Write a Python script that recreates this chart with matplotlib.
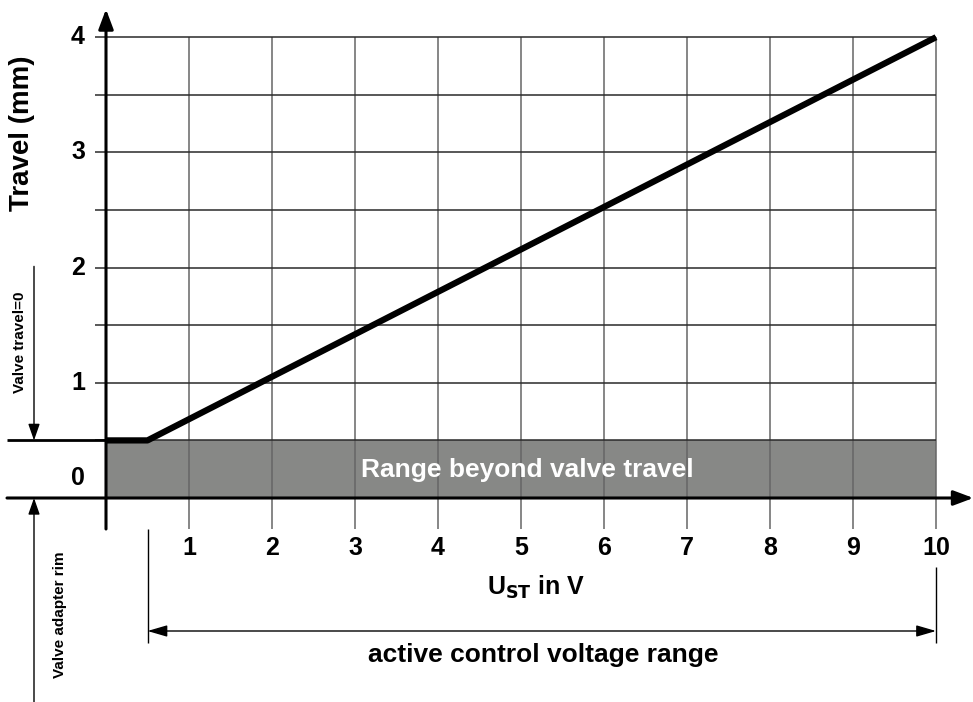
import numpy as np
import matplotlib
matplotlib.use('Agg')
import matplotlib.pyplot as plt

plt.rcParams['font.family'] = ['Liberation Sans', 'DejaVu Sans']
plt.rcParams['font.weight'] = 'bold'

# 特性曲线数据
voltage = [0, 0.5, 10]
travel = [0.5, 0.5, 4]
x_ticks = [1, 2, 3, 4, 5, 6, 7, 8, 9, 10]
y_grid = [0.5, 1, 1.5, 2, 2.5, 3, 3.5, 4]
y_labels = ['0', '1', '2', '3', '4']
y_label_pos = [0.17, 1, 2, 3, 4]
band = [0, 0.5]          # 灰色区域
active_range = [0.5, 10]

fig = plt.figure(figsize=(9.73, 7.02), dpi=100)
ax = fig.add_axes([0, 0, 1, 1])
# 数据坐标与像素对应: x=0 -> 106px, 83px/单位; y=0 -> 498px, 115px/单位
px_x = 83.0
px_y = 115.2
ax.set_xlim(-106 / px_x, (973 - 106) / px_x)
ax.set_ylim(-(702 - 498) / px_y, 498 / px_y)
ax.axis('off')

def dx(p):
    return p / px_x

def dy(p):
    return p / px_y

# 灰色区域
ax.fill_between([0, 10], band[0], band[1], color='#878886', lw=0, zorder=1)
ax.text(5.08, 0.24, 'Range beyond valve travel', color='white', fontsize=19,
        ha='center', va='center', fontweight='bold', zorder=5)

# 网格
ax.vlines(x_ticks, -dy(31), 4, color='#666666', lw=1.1, zorder=2)
ax.hlines(y_grid, -dx(11), 10, color='#2a2a2a', lw=1.1, zorder=2)

# 坐标轴
ax.annotate('', xy=(10.45, 0), xytext=(-dx(99), 0),
            arrowprops=dict(arrowstyle='-|>,head_length=1.2,head_width=0.45',
                            color='black', lw=2.2, shrinkA=0, shrinkB=0), zorder=4)
ax.annotate('', xy=(0, 4 + dy(28)), xytext=(0, -dy(31)),
            arrowprops=dict(arrowstyle='-|>,head_length=1.2,head_width=0.45',
                            color='black', lw=2.2, shrinkA=0, shrinkB=0), zorder=4)
ax.hlines(0.5, -dx(99), 0, color='black', lw=2, zorder=3)

# 曲线
ax.plot(voltage, travel, color='black', lw=4.5, solid_capstyle='butt', zorder=6)

# 刻度标签
for t in x_ticks:
    ax.text(t, -dy(50), str(t), fontsize=18, ha='center', va='center')
for lab, p in zip(y_labels, y_label_pos):
    ax.text(-dx(28), p, lab, fontsize=18, ha='center', va='center')

ax.text(5.18, -dy(89), r'U$_{\mathbf{ST}}$ in V', fontsize=18, ha='center', va='center')
ax.text(-dx(84), 3.17, 'Travel (mm)', fontsize=20, rotation=90, ha='center', va='center')

# 左侧注释
ax.annotate('', xy=(-dx(72), 0.5), xytext=(-dx(72), 0.5 + dy(174)),
            arrowprops=dict(arrowstyle='-|>,head_length=1.0,head_width=0.35',
                            color='black', lw=1, shrinkA=0, shrinkB=0))
ax.text(-dx(86), 0.5 + dy(98), 'Valve travel=0', fontsize=11, rotation=90,
        ha='center', va='center')
ax.annotate('', xy=(-dx(72), 0), xytext=(-dx(72), -dy(210)),
            arrowprops=dict(arrowstyle='-|>,head_length=1.0,head_width=0.35',
                            color='black', lw=1, shrinkA=0, shrinkB=0))
ax.text(-dx(46), -dy(117), 'Valve adapter rim', fontsize=11, rotation=90,
        ha='center', va='center')

# 有效控制电压范围
ax.vlines(active_range[0], -dy(145), -dy(31), color='black', lw=1)
ax.vlines(active_range[1], -dy(145), -dy(69), color='black', lw=1)
ax.annotate('', xy=(active_range[0], -dy(133)), xytext=(active_range[1], -dy(133)),
            arrowprops=dict(arrowstyle='<|-|>,head_length=1.2,head_width=0.35',
                            color='black', lw=1, shrinkA=0, shrinkB=0))
ax.text(5.27, -dy(157), 'active control voltage range', fontsize=19,
        ha='center', va='center')

fig.savefig('out.png', dpi=100)
